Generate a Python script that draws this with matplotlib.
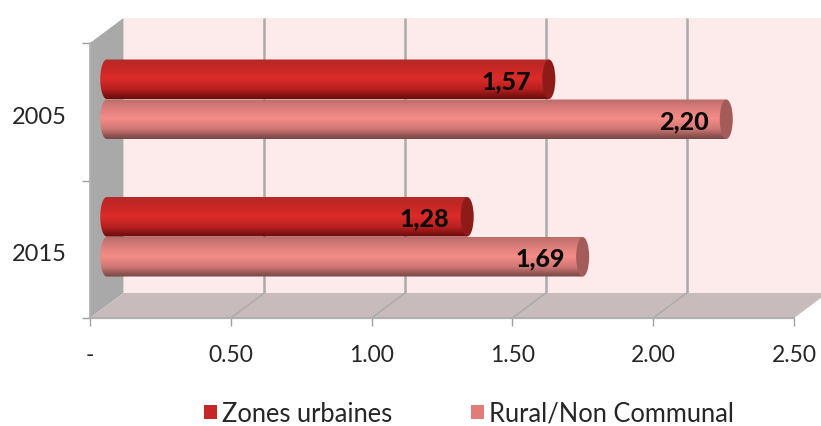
import numpy as np
import matplotlib
matplotlib.use("Agg")
import matplotlib.pyplot as plt
from matplotlib.colors import LinearSegmentedColormap
from matplotlib.patches import Ellipse, PathPatch, Polygon, Rectangle
from matplotlib.path import Path
from matplotlib.transforms import Affine2D, IdentityTransform

categories = ["2005", "2015"]
urban = [1.57, 1.28]
rural = [2.20, 1.69]
series_names = ["Zones urbaines", "Rural/Non Communal"]
x_ticks = [0, 0.5, 1.0, 1.5, 2.0, 2.5]
x_labels = ["-", "0.50", "1.00", "1.50", "2.00", "2.50"]

W, H = 821, 427
plt.rcParams["font.family"] = ["Lato", "DejaVu Sans"]
fig = plt.figure(figsize=(W / 100, H / 100), dpi=100, facecolor="white")
L, R, T, B = 90, 794, 44, 319
ax = fig.add_axes([L / W, 1 - B / H, (R - L) / W, (B - T) / H])
ax.set_xlim(0, 2.5)
ax.set_ylim(2, 0)
ax.set_facecolor("none")
for s in ax.spines.values():
    s.set_visible(False)

DX, DY = 33.5, 25
back = ax.transData + Affine2D().translate(DX, DY)
mid = ax.transData + Affine2D().translate(DX / 2, DY / 2)

# back wall
ax.add_patch(Rectangle((0, 0), 2.5, 2, transform=back, fc="#FDEBEB", ec="none", clip_on=False, zorder=1))
for t in x_ticks[1:-1]:
    ax.plot([t, t], [0, 2], transform=back, color="#ABABAB", lw=1.8, clip_on=False, zorder=2, solid_capstyle="butt")

def corners(x, y):
    return ax.transData.transform((x, y))

def wall(a, b, color, z):
    p0, p1 = corners(*a), corners(*b)
    shift = np.array([DX, DY])
    poly = Polygon([p0, p0 + shift, p1 + shift, p1], closed=True, transform=IdentityTransform(),
                   fc=color, ec="none", clip_on=False, zorder=z)
    ax.add_patch(poly)

wall((0, 0), (0, 2), "#A9A9A9", 3)
wall((0, 2), (2.5, 2), "#C8BBBB", 3)

# floor diagonals
for t in x_ticks[1:-1]:
    p0 = corners(t, 2)
    ax.plot([p0[0], p0[0] + DX], [p0[1], p0[1] + DY], transform=IdentityTransform(),
            color="#ABABAB", lw=1.1, clip_on=False, zorder=4)
ax.plot([0, 2.5], [2, 2], color="#B0B0B0", lw=1.6, clip_on=False, zorder=5)
ax.plot([0, 0], [0, 2], color="#B0B0B0", lw=1.2, clip_on=False, zorder=5)

# axes ticks
ax.set_xticks(x_ticks)
ax.set_xticklabels(x_labels, fontsize=16.5, color="#262626")
ax.set_yticks([0, 1, 2])
ax.set_yticklabels([])
ax.set_yticks([0.5, 1.5], minor=True)
ax.set_yticklabels(categories, minor=True, fontsize=17, color="#262626")
ax.tick_params(axis="x", length=5.5, width=1, color="#A0A0A0", pad=13.5)
ax.tick_params(axis="y", which="major", length=5.5, width=1, color="#A0A0A0")
ax.tick_params(axis="y", which="minor", length=0, pad=17)
for lab in ax.get_yticklabels(minor=True):
    lab.set_transform(lab.get_transform() + Affine2D().translate(0, -2.5))

urban_cmap = LinearSegmentedColormap.from_list(
    "urban", [(0, "#B52A28"), (0.2, "#C42725"), (0.48, "#DC2C29"), (0.75, "#B82020"), (0.92, "#7F1212"), (1, "#680D0D")])
rural_cmap = LinearSegmentedColormap.from_list(
    "rural", [(0, "#BC6C6A"), (0.2, "#D87C79"), (0.48, "#F58C88"), (0.75, "#CF7774"), (0.92, "#8F5452"), (1, "#764644")])
grad = np.linspace(0, 1, 128).reshape(-1, 1)

px_x = 2.5 / (R - L)
px_y = 2 / (B - T)
CAP = 6.5 * px_x
BAR_H = 39.5 * px_y
STEP = 20 * px_y

def cylinder(value, yc, cmap, cap_color):
    y0, y1 = yc - BAR_H / 2, yc + BAR_H / 2
    th = np.linspace(np.pi / 2, 3 * np.pi / 2, 40)
    xs = np.r_[value, CAP * np.cos(th), value, value]
    ys = np.r_[y0, yc - BAR_H / 2 * np.sin(th), y1, y0]
    patch = PathPatch(Path(np.c_[xs, ys]), transform=mid, fc="none", ec="none", zorder=6)
    ax.add_patch(patch)
    im = ax.imshow(grad, cmap=cmap, aspect="auto", origin="upper", extent=[-CAP, value, y1, y0],
                   transform=mid, zorder=6, interpolation="bilinear")
    im.set_clip_path(patch)
    ax.add_patch(Ellipse((value, yc), 2 * CAP, BAR_H, transform=mid, fc=cap_color, ec="none", zorder=7, clip_on=False))
    ax.annotate(f"{value:.2f}".replace(".", ","), (value, yc), xycoords=mid, xytext=(-12.8, -1),
                textcoords="offset points", ha="right", va="center", fontsize=18,
                fontweight="black", color="#0A0A0A", zorder=8)

for i in range(len(categories)):
    yc = i + 0.5
    cylinder(urban[i], yc - STEP, urban_cmap, "#8F1B18")
    cylinder(rural[i], yc + STEP, rural_cmap, "#A35C5A")

ax.set_xlim(0, 2.5)
ax.set_ylim(2, 0)

h1 = Rectangle((0, 0), 1, 1, fc="#C42725", ec="none")
h2 = Rectangle((0, 0), 1, 1, fc="#E07C7A", ec="none")
fig.legend([h1, h2], series_names, ncol=2, frameon=False, fontsize=18.4, labelcolor="#262626",
           loc="center", bbox_to_anchor=(469 / W, 1 - 414.5 / H), handlelength=0.5, handleheight=0.5,
           handletextpad=0.2, columnspacing=3.1, borderpad=0, borderaxespad=0)

fig.savefig("out.png", dpi=100, facecolor="white")
